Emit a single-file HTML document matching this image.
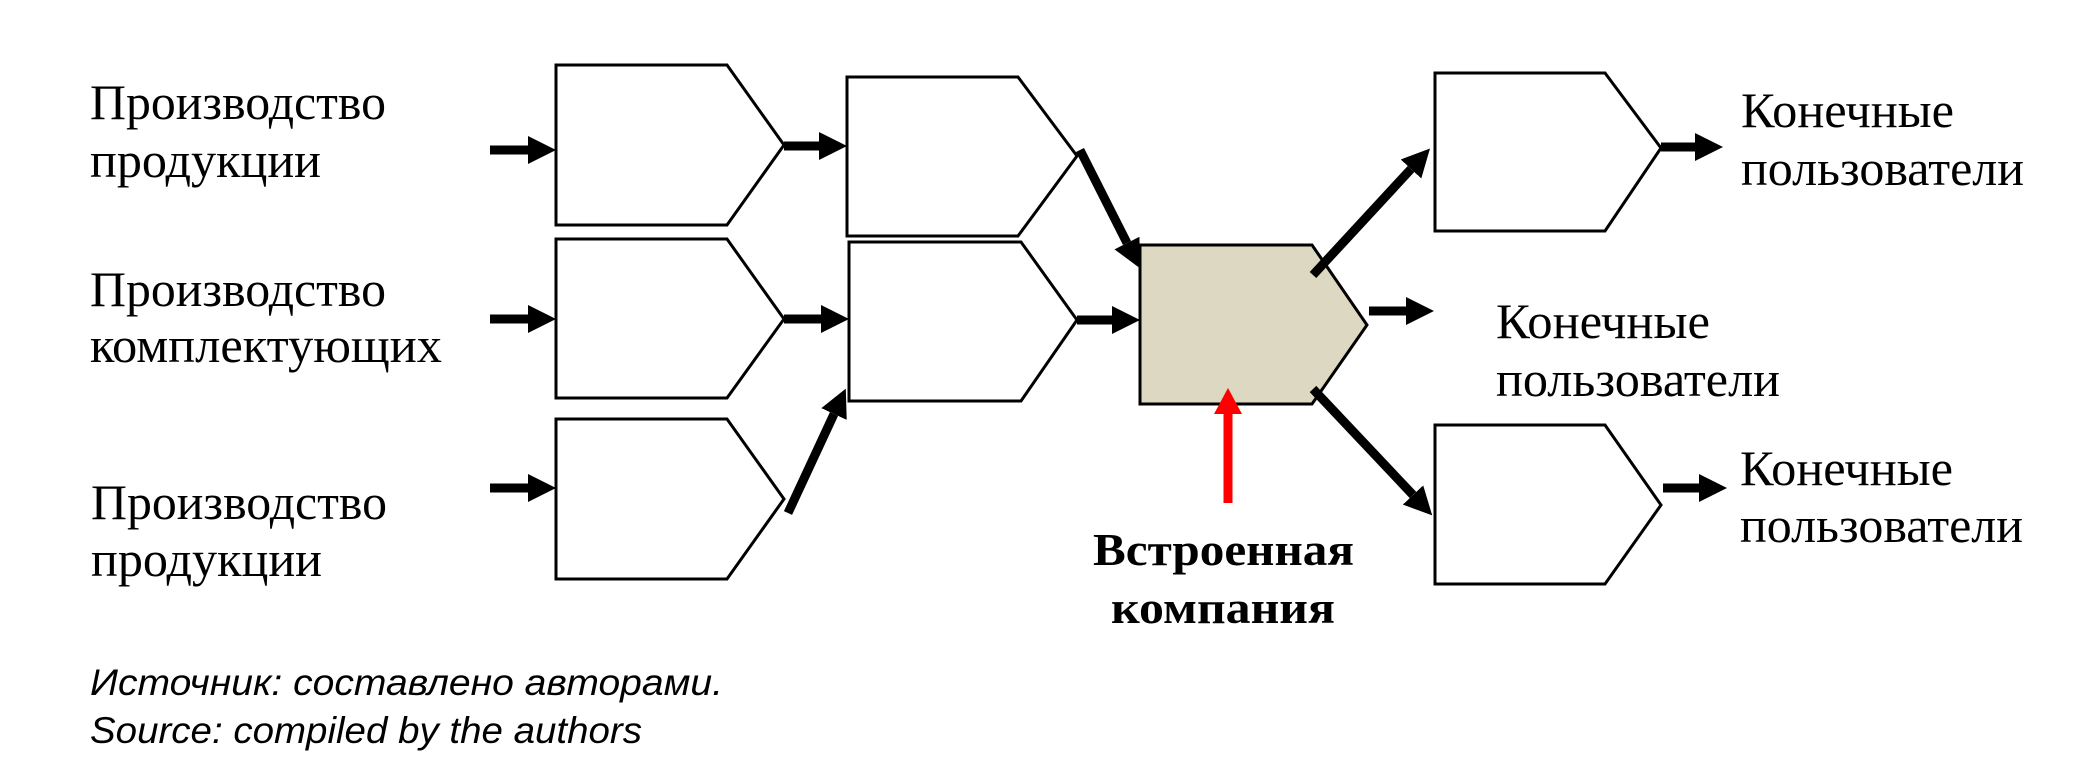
<!DOCTYPE html>
<html><head><meta charset="utf-8"><style>
html,body{margin:0;padding:0;background:#fff;}
svg{display:block;}
.t{font-family:"Liberation Serif","DejaVu Serif",serif;font-size:50px;fill:#000;}
.b{font-family:"Liberation Serif","DejaVu Serif",serif;font-size:46px;font-weight:bold;fill:#000;}
.f{font-family:"Liberation Sans","DejaVu Sans",sans-serif;font-style:italic;font-size:37px;fill:#000;}
</style></head><body>
<svg width="2078" height="762" viewBox="0 0 2078 762" xmlns="http://www.w3.org/2000/svg">
<defs>
<marker id="h" markerUnits="userSpaceOnUse" markerWidth="28" markerHeight="28" refX="0" refY="14" orient="auto" viewBox="0 0 28 28">
<path d="M0,0 L28,14 L0,28 Z" fill="#000"/>
</marker>
</defs>
<g fill="#fff" stroke="#000" stroke-width="3">
<polygon points="556,65 727,65 784,145 727,225 556,225"/>
<polygon points="847,77 1018,77 1077,156 1018,236 847,236"/>
<polygon points="556,239 727,239 784,319 727,398 556,398"/>
<polygon points="849,242 1021,242 1077,320 1021,401 849,401"/>
<polygon points="556,419 727,419 784,499 727,579 556,579"/>
<polygon points="1140,245 1312,245 1367,325 1312,404 1140,404" fill="#dcd8c2"/>
<polygon points="1435,73 1605,73 1661,148 1605,231 1435,231"/>
<polygon points="1435,425 1605,425 1661,505 1605,584 1435,584"/>
</g>
<g stroke="#000" stroke-width="9" fill="none" marker-end="url(#h)">
<line x1="490" y1="150" x2="528" y2="150"/>
<line x1="490" y1="319" x2="528" y2="319"/>
<line x1="490" y1="488" x2="528" y2="488"/>
<line x1="784" y1="146" x2="819" y2="146"/>
<line x1="784" y1="319" x2="821" y2="319"/>
<line x1="788" y1="513" x2="834" y2="414"/>
<line x1="1080" y1="150" x2="1127" y2="243"/>
<line x1="1077" y1="320" x2="1112" y2="320"/>
<line x1="1313" y1="275" x2="1411" y2="169"/>
<line x1="1369" y1="311" x2="1406" y2="311"/>
<line x1="1313" y1="389" x2="1413" y2="495"/>
<line x1="1661" y1="147" x2="1695" y2="147"/>
<line x1="1663" y1="488" x2="1699" y2="488"/>
</g>
<rect x="1223.5" y="412" width="9" height="91" fill="#f00"/>
<polygon points="1214,414 1228,388 1242,414" fill="#f00"/>
<text class="t" x="90" y="119" textLength="296" lengthAdjust="spacingAndGlyphs">Производство</text>
<text class="t" x="90" y="177" textLength="231" lengthAdjust="spacingAndGlyphs">продукции</text>
<text class="t" x="90" y="306" textLength="296" lengthAdjust="spacingAndGlyphs">Производство</text>
<text class="t" x="90" y="362" textLength="352" lengthAdjust="spacingAndGlyphs">комплектующих</text>
<text class="t" x="91" y="519" textLength="296" lengthAdjust="spacingAndGlyphs">Производство</text>
<text class="t" x="91" y="576" textLength="231" lengthAdjust="spacingAndGlyphs">продукции</text>
<text class="t" x="1741" y="127" textLength="213" lengthAdjust="spacingAndGlyphs">Конечные</text>
<text class="t" x="1741" y="185" textLength="283" lengthAdjust="spacingAndGlyphs">пользователи</text>
<text class="t" x="1496" y="338" textLength="214" lengthAdjust="spacingAndGlyphs">Конечные</text>
<text class="t" x="1496" y="396" textLength="284" lengthAdjust="spacingAndGlyphs">пользователи</text>
<text class="t" x="1740" y="485" textLength="213" lengthAdjust="spacingAndGlyphs">Конечные</text>
<text class="t" x="1740" y="542" textLength="283" lengthAdjust="spacingAndGlyphs">пользователи</text>
<text class="b" x="1093" y="565" textLength="261" lengthAdjust="spacingAndGlyphs">Встроенная</text>
<text class="b" x="1111" y="623" textLength="224" lengthAdjust="spacingAndGlyphs">компания</text>
<text class="f" x="90" y="695" textLength="633" lengthAdjust="spacingAndGlyphs">Источник: составлено авторами.</text>
<text class="f" x="90" y="743" textLength="552" lengthAdjust="spacingAndGlyphs">Source: compiled by the authors</text>
</svg>
</body></html>
